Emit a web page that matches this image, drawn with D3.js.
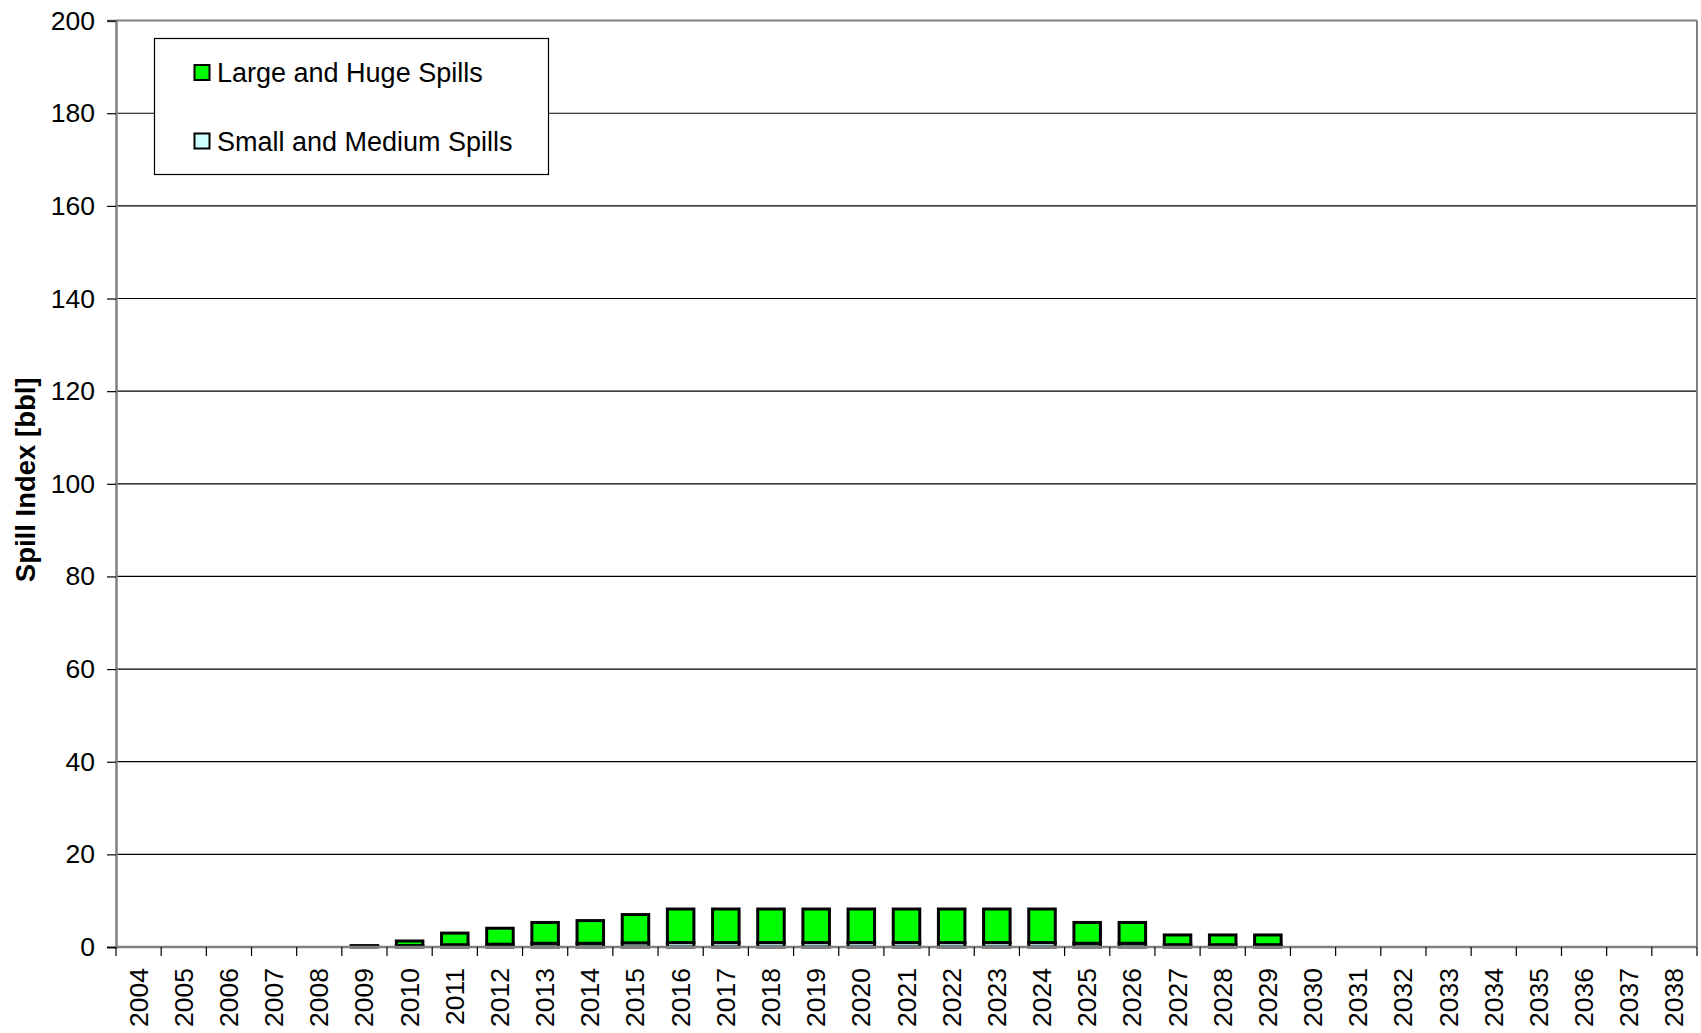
<!DOCTYPE html>
<html>
<head>
<meta charset="utf-8">
<script src="https://cdn.jsdelivr.net/npm/d3@7"></script>
<style>
  html, body { margin: 0; padding: 0; background: #fff; }
  svg { display: block; font-family: Arial, "Liberation Sans", sans-serif; }
</style>
</head>
<body>
<svg id="chart" width="1701" height="1033"></svg>
<script>
const years = ["2004","2005","2006","2007","2008","2009","2010","2011","2012","2013","2014","2015","2016","2017","2018","2019","2020","2021","2022","2023","2024","2025","2026","2027","2028","2029","2030","2031","2032","2033","2034","2035","2036","2037","2038"];
const smallMedium = [0,0,0,0,0,0.15,0.3,0.5,0.6,0.8,0.8,0.9,0.95,0.95,0.95,0.95,0.95,0.95,0.95,0.95,0.95,0.8,0.8,0.5,0.5,0.5,0,0,0,0,0,0,0,0,0];
const largeHuge   = [0,0,0,0,0,0.15,1.0,2.5,3.45,4.5,4.9,6.1,7.25,7.25,7.25,7.25,7.25,7.25,7.25,7.25,7.25,4.5,4.5,2.1,2.1,2.1,0,0,0,0,0,0,0,0,0];
const yTicks = [0,20,40,60,80,100,120,140,160,180,200];
const seriesNames = ["Large and Huge Spills","Small and Medium Spills"];
const seriesColors = ["#00FF00","#CCFFFF"];
const yTitle = "Spill Index [bbl]";

const svg = d3.select("#chart");
const L = 116, R = 1697, T = 20.6, B = 947;

const x = d3.scaleBand().domain(years).range([L, R]).padding(0);
const xb = d3.scaleBand().domain(years).range([L, R]).paddingInner(0.413).paddingOuter(0.2065);
const y = d3.scaleLinear().domain([0, 200]).range([B, T]);

// gridlines
svg.append("g").selectAll("line").data(yTicks.filter(t => t > 0 && t < 200)).join("line")
  .attr("x1", L).attr("x2", R).attr("y1", d => y(d)).attr("y2", d => y(d))
  .attr("stroke", "#000").attr("stroke-width", 1.2);

// plot border top/right
svg.append("line").attr("x1", L).attr("x2", R).attr("y1", y(200)).attr("y2", y(200))
  .attr("stroke", "#808080").attr("stroke-width", 2);
svg.append("line").attr("x1", R).attr("x2", R).attr("y1", y(200)).attr("y2", B)
  .attr("stroke", "#808080").attr("stroke-width", 2);

// bars
const data = years.map((yr, i) => ({ yr, s: smallMedium[i], l: largeHuge[i] }));
const bars = svg.append("g");
data.forEach(d => {
  if (d.s + d.l <= 0) return;
  const bx = xb(d.yr), bw = xb.bandwidth();
  bars.append("rect").attr("x", bx).attr("width", bw)
    .attr("y", y(d.s)).attr("height", y(0) - y(d.s))
    .attr("fill", seriesColors[1]).attr("stroke", "#000").attr("stroke-width", 3);
  bars.append("rect").attr("x", bx).attr("width", bw)
    .attr("y", y(d.s + d.l)).attr("height", y(d.s) - y(d.s + d.l))
    .attr("fill", seriesColors[0]).attr("stroke", "#000").attr("stroke-width", 3);
});

// y axis
const yAxis = d3.axisLeft(y).tickValues(yTicks).tickSize(9).tickPadding(12).tickFormat(d3.format("d"));
const gy = svg.append("g").attr("transform", `translate(${L},0)`).call(yAxis);
gy.select(".domain").attr("stroke", "#808080").attr("stroke-width", 2.5);
gy.selectAll(".tick line").attr("stroke", "#000").attr("stroke-width", 1.2);
gy.selectAll(".tick text").attr("font-size", "26.5px").attr("fill", "#000")
  .attr("font-family", "Arial, 'Liberation Sans', sans-serif");

// x axis ticks at band boundaries
const xg = svg.append("g");
xg.append("line").attr("x1", L).attr("x2", R).attr("y1", B).attr("y2", B)
  .attr("stroke", "#808080").attr("stroke-width", 2.5);
const boundaries = years.map(yr => x(yr)).concat([R]);
xg.selectAll("line.tk").data(boundaries).join("line").attr("class", "tk")
  .attr("x1", d => d).attr("x2", d => d).attr("y1", B).attr("y2", B + 9)
  .attr("stroke", "#000").attr("stroke-width", 1.2);
xg.selectAll("text").data(years).join("text")
  .attr("transform", d => `translate(${x(d) + x.bandwidth() / 2},${968}) rotate(-90)`)
  .attr("text-anchor", "end").attr("dominant-baseline", "central")
  .attr("font-size", "26.5px").attr("fill", "#000").text(d => d);

// y title
svg.append("text").attr("transform", `translate(25,${(T + B) / 2 - 4}) rotate(-90)`)
  .attr("text-anchor", "middle").attr("dominant-baseline", "central")
  .attr("font-size", "27.5px").attr("font-weight", "bold").text(yTitle);

// legend
const lg = svg.append("g");
lg.append("rect").attr("x", 154.5).attr("y", 38.5).attr("width", 394).attr("height", 136)
  .attr("fill", "#fff").attr("stroke", "#000").attr("stroke-width", 1.2);
const rowsY = [73, 141.5];
seriesNames.forEach((n, i) => {
  lg.append("rect").attr("x", 194.5).attr("y", rowsY[i] - 8).attr("width", 15).attr("height", 15)
    .attr("fill", seriesColors[i]).attr("stroke", "#000").attr("stroke-width", 2);
  lg.append("text").attr("x", 217).attr("y", rowsY[i]).attr("dominant-baseline", "central")
    .attr("font-size", "27px").attr("fill", "#000").text(n);
});
</script>
</body>
</html>
